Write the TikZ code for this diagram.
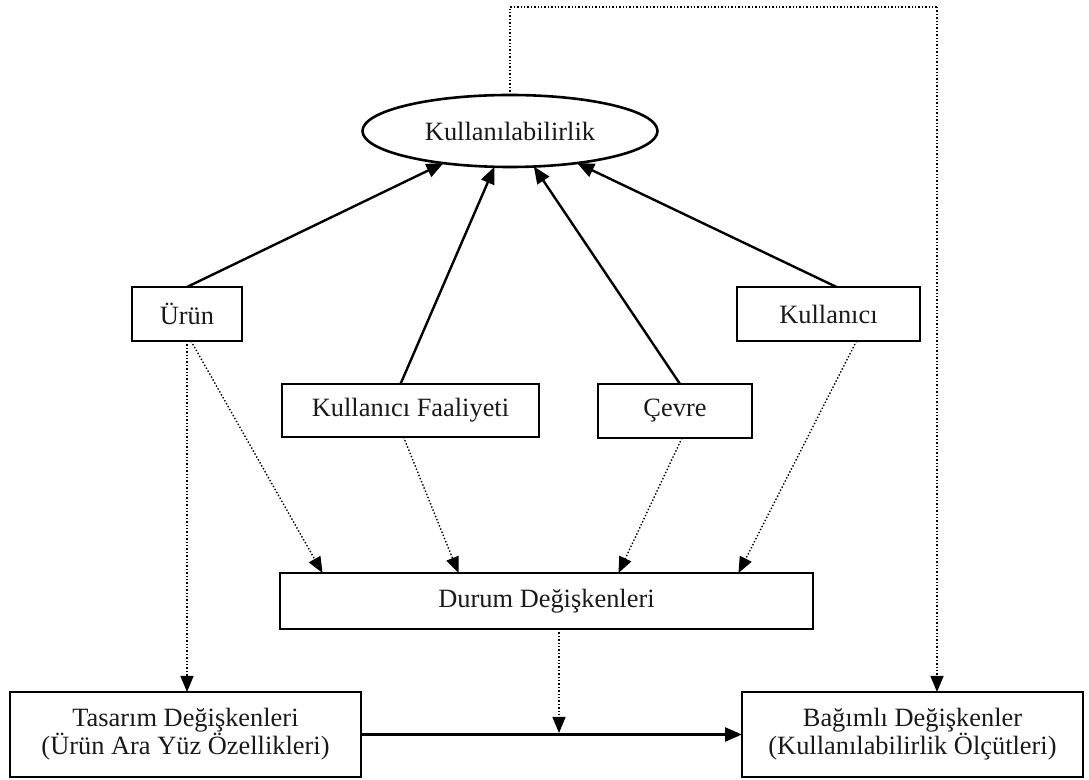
\documentclass[tikz,border=0pt]{standalone}
\usepackage{fontspec}
\setmainfont{Liberation Serif}
\usetikzlibrary{arrows.meta,shapes.geometric,calc}
\begin{document}
\begin{tikzpicture}[x=0.5pt,y=-0.5pt,
  every node/.style={font=\fontsize{13.2pt}{14pt}\selectfont, text=black!90, inner sep=0pt, outer sep=0pt},
  boxnode/.style={draw=black, line width=1.3pt, rectangle, align=center},
  ellnode/.style={draw=black, line width=1.3pt, ellipse},
  solidarr/.style={line width=1.2pt, -{Triangle[length=8.5pt,width=7pt]}},
  dotarr/.style={line width=0.7pt, dash pattern=on 0.7pt off 1pt, -{Triangle[length=8pt,width=6.5pt]}},
  dotline/.style={line width=0.7pt, dash pattern=on 0.7pt off 1pt}
]
\useasboundingbox (0,0) rectangle (1089,780);

\node[ellnode, minimum width=295*0.5pt, minimum height=72*0.5pt] (ell) at (510,131) {Kullanılabilirlik};
\node[boxnode, minimum width=110*0.5pt, minimum height=54*0.5pt] (urun) at (187,314) {Ürün};
\node[boxnode, minimum width=257*0.5pt, minimum height=53*0.5pt] (kf) at (410.5,410.5) {Kullanıcı Faaliyeti};
\node[boxnode, minimum width=154*0.5pt, minimum height=54*0.5pt] (cevre) at (675,411) {Çevre};
\node[boxnode, minimum width=183*0.5pt, minimum height=54*0.5pt] (kul) at (828.5,314) {Kullanıcı};
\node[boxnode, minimum width=533*0.5pt, minimum height=56*0.5pt] (durum) at (546.5,601) {Durum Değişkenleri};
\node[boxnode, minimum width=351*0.5pt, minimum height=85*0.5pt] (tas) at (185.5,734.5) {Tasarım Değişkenleri\\(Ürün Ara Yüz Özellikleri)};
\node[boxnode, minimum width=341*0.5pt, minimum height=85*0.5pt] (bag) at (912.5,734.5) {Bağımlı Değişkenler\\(Kullanılabilirlik Ölçütleri)};

\coordinate (tr) at (937,7);
\coordinate (mid) at (559,733);

% solid arrows to the ellipse
\draw[solidarr] (urun.north) -- (ell);
\draw[solidarr] ([xshift=-5pt]kf.north) -- (ell);
\draw[solidarr] ([xshift=2.5pt]cevre.north) -- (ell);
\draw[solidarr] ([xshift=4pt]kul.north) -- (ell);

% dotted arrows
\draw[dotarr] (urun.south) -- (tas.north -| urun.south);
\draw[dotarr] ([xshift=2pt]urun.south) -- ([xshift=-112pt]durum.north);
\draw[dotarr] ([xshift=-3.5pt]kf.south) -- ([xshift=-44pt]durum.north);
\draw[dotarr] ([xshift=3.5pt]cevre.south) -- ([xshift=36pt]durum.north);
\draw[dotarr] ([xshift=14pt]kul.south) -- ([xshift=96pt]durum.north);
\draw[dotarr] (durum.south -| mid) -- (mid);

% top feedback line
\draw[dotline] (ell.north) |- (tr);
\draw[dotarr] (tr) -- (tr |- bag.north);

% main solid arrow
\draw[solidarr] (tas.east) -- (bag.west);
\end{tikzpicture}
\end{document}
